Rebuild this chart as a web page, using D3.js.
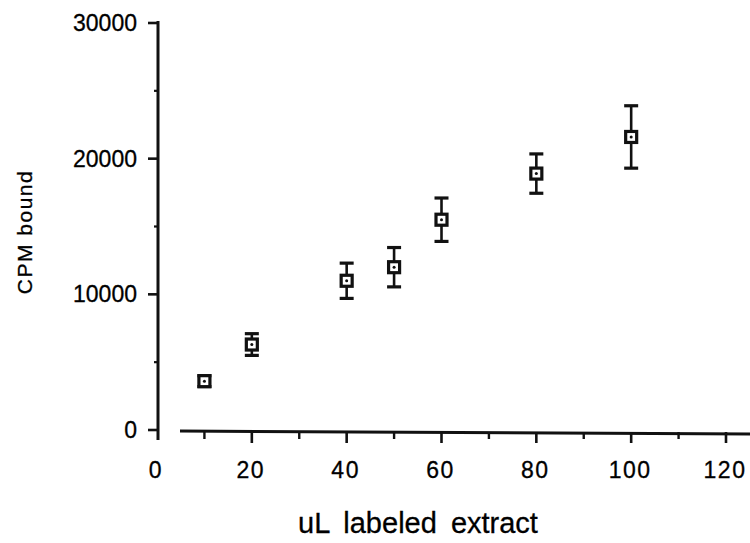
<!DOCTYPE html>
<html>
<head>
<meta charset="UTF-8">
<script src="https://d3js.org/d3.v7.min.js"></script>
<style>
  body { margin: 0; background: #fff; }
  text { font-family: "Liberation Sans", Arial, sans-serif; fill: #000; stroke: #000; stroke-width: 0.3px; }
</style>
</head>
<body>
<svg id="chart" width="750" height="543"></svg>
<script>
// data
var volumes = [10, 20, 40, 50, 60, 80, 100];          // uL labeled extract
var cpm     = [3600, 6300, 11000, 12000, 15500, 18900, 21600];
var cpmErr  = [400, 800, 1300, 1450, 1600, 1450, 2300];
var xTicks  = [0, 20, 40, 60, 80, 100, 120];
var yTicks  = [0, 10000, 20000, 30000];

var svg = d3.select("#chart");

var x = d3.scaleLinear().domain([0, 120]).range([157, 726]);
var y = d3.scaleLinear().domain([0, 30000]).range([430, 23]);

var ink = "#111";

// y axis: line plus ticks on the left
svg.append("line")
  .attr("x1", 158).attr("x2", 158)
  .attr("y1", 21).attr("y2", 440)
  .attr("stroke", ink).attr("stroke-width", 3);

svg.selectAll("line.ymaj")
  .data(yTicks).enter().append("line")
  .attr("class", "ymaj")
  .attr("x1", 148).attr("x2", 158)
  .attr("y1", d => y(d)).attr("y2", d => y(d))
  .attr("stroke", ink).attr("stroke-width", 2.6);

svg.selectAll("line.ymin")
  .data(d3.range(5000, 30000, 10000)).enter().append("line")
  .attr("class", "ymin")
  .attr("x1", 154).attr("x2", 158)
  .attr("y1", d => y(d)).attr("y2", d => y(d))
  .attr("stroke", ink).attr("stroke-width", 2.2);

svg.selectAll("text.ylab")
  .data(yTicks).enter().append("text")
  .attr("class", "ylab")
  .attr("x", 137)
  .attr("y", d => y(d) + 8)
  .attr("text-anchor", "end")
  .style("font-size", "23px")
  .text(d => d);

// x axis: separate line, ticks downwards
svg.append("line")
  .attr("x1", 180).attr("x2", 750)
  .attr("y1", 431).attr("y2", 434)
  .attr("stroke", ink).attr("stroke-width", 3);

svg.selectAll("line.xmaj")
  .data(xTicks.filter(d => d > 0)).enter().append("line")
  .attr("class", "xmaj")
  .attr("x1", d => x(d)).attr("x2", d => x(d))
  .attr("y1", 432).attr("y2", 443)
  .attr("stroke", ink).attr("stroke-width", 2.6);

svg.selectAll("line.xmin")
  .data(d3.range(10, 130, 20)).enter().append("line")
  .attr("class", "xmin")
  .attr("x1", d => x(d)).attr("x2", d => x(d))
  .attr("y1", 432).attr("y2", 439)
  .attr("stroke", ink).attr("stroke-width", 2.4);

svg.selectAll("text.xlab")
  .data(xTicks).enter().append("text")
  .attr("class", "xlab")
  .attr("x", d => x(d) - 1)
  .attr("y", 478)
  .attr("text-anchor", "middle")
  .style("font-size", "23px")
  .style("letter-spacing", "1.5px")
  .text(d => d);

// axis titles
svg.append("text")
  .attr("x", 418).attr("y", 533)
  .attr("text-anchor", "middle")
  .style("font-size", "29px")
  .style("word-spacing", "6px")
  .text("uL labeled extract");

svg.append("text")
  .attr("transform", "translate(32,232) rotate(-90)")
  .attr("text-anchor", "middle")
  .style("font-size", "21px")
  .style("letter-spacing", "1.5px")
  .text("CPM bound");

// points with error bars
var pts = svg.append("g").selectAll("g")
  .data(volumes.map((v, i) => ({v: v, c: cpm[i], e: cpmErr[i]})))
  .enter().append("g");

pts.append("line")
  .attr("x1", d => x(d.v)).attr("x2", d => x(d.v))
  .attr("y1", d => y(d.c + d.e)).attr("y2", d => y(d.c - d.e))
  .attr("stroke", ink).attr("stroke-width", 2.6);

pts.selectAll("line.cap")
  .data(d => [d.c + d.e, d.c - d.e].map(val => ({v: d.v, val: val})))
  .enter().append("line")
  .attr("class", "cap")
  .attr("x1", d => x(d.v) - 7).attr("x2", d => x(d.v) + 7)
  .attr("y1", d => y(d.val)).attr("y2", d => y(d.val))
  .attr("stroke", ink).attr("stroke-width", 3.2);

pts.append("rect")
  .attr("x", d => x(d.v) - 5.5).attr("y", d => y(d.c) - 5.5)
  .attr("width", 11).attr("height", 11)
  .attr("fill", "#fff")
  .attr("stroke", ink).attr("stroke-width", 3.2);

pts.append("circle")
  .attr("cx", d => x(d.v)).attr("cy", d => y(d.c))
  .attr("r", 1.5)
  .attr("fill", ink);
</script>
</body>
</html>
